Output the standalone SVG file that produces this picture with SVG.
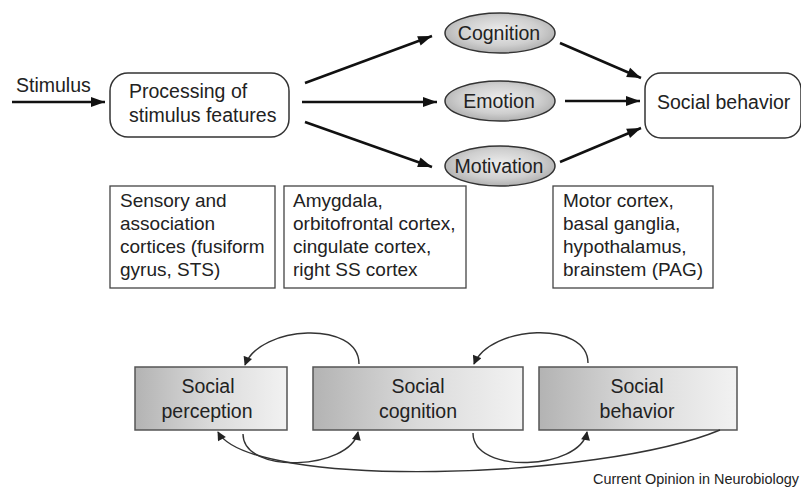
<svg xmlns="http://www.w3.org/2000/svg" width="801" height="493" viewBox="0 0 801 493">
<defs>
<marker id="ah" markerWidth="10" markerHeight="10" viewBox="0 0 10 10" refX="10" refY="5" orient="auto" markerUnits="userSpaceOnUse" style="overflow:visible">
<path d="M0,0 L14,5 L0,10 Z" transform="translate(-4,0)" fill="#111"/>
</marker>
<marker id="sh" viewBox="0 0 10 10" refX="9" refY="5" markerWidth="10" markerHeight="9" orient="auto" markerUnits="userSpaceOnUse">
<path d="M0,0 L10,5 L0,10 Z" fill="#222"/>
</marker>
<radialGradient id="eg" cx="0.5" cy="0.45" r="0.6">
<stop offset="0" stop-color="#eeeeee"/>
<stop offset="0.6" stop-color="#cfcfcf"/>
<stop offset="1" stop-color="#a8a8a8"/>
</radialGradient>
<linearGradient id="bg" x1="0" y1="0" x2="1" y2="0">
<stop offset="0" stop-color="#b3b3b3"/>
<stop offset="0.5" stop-color="#dadada"/>
<stop offset="1" stop-color="#f2f2f2"/>
</linearGradient>
<style>
text{font-family:"Liberation Sans",Arial,sans-serif;fill:#222;}
.t{font-size:19.5px;}
.b{font-size:19px;}
.rr{fill:#fff;stroke:#333;stroke-width:1.5;}
.el{fill:url(#eg);stroke:#333;stroke-width:1.5;}
.bx{fill:#fff;stroke:#444;stroke-width:1.3;}
.gb{fill:url(#bg);stroke:#555;stroke-width:1.5;}
.ar{fill:none;stroke:#111;stroke-width:2.5;marker-end:url(#ah);}
.cu{fill:none;stroke:#333;stroke-width:1.4;marker-end:url(#sh);}
</style>
</defs>
<g id="stimulus"><text class="t" x="16" y="92">Stimulus</text></g>
<g id="processing"><rect class="rr" x="110" y="73" width="179" height="64" rx="18"/>
<text class="t" x="129" y="98">Processing of</text><text class="t" x="129" y="122">stimulus features</text></g>
<g id="cognition"><ellipse class="el" cx="500" cy="33" rx="55" ry="20"/><text class="t" x="499" y="40" text-anchor="middle">Cognition</text></g>
<g id="emotion"><ellipse class="el" cx="500" cy="101" rx="55" ry="20"/><text class="t" x="499" y="108" text-anchor="middle">Emotion</text></g>
<g id="motivation"><ellipse class="el" cx="500" cy="166" rx="55" ry="20"/><text class="t" x="499" y="173" text-anchor="middle">Motivation</text></g>
<g id="socialbehavior"><rect class="rr" x="645" y="73" width="156" height="65" rx="16"/><text class="t" x="657" y="109">Social behavior</text></g>
<g id="box1"><rect class="bx" x="110" y="186" width="165" height="102"/>
<text class="b" x="120" y="207">Sensory and</text><text class="b" x="120" y="230">association</text><text class="b" x="120" y="253">cortices (fusiform</text><text class="b" x="120" y="276">gyrus, STS)</text></g>
<g id="box2"><rect class="bx" x="284" y="186" width="182" height="102"/>
<text class="b" x="293" y="207">Amygdala,</text><text class="b" x="293" y="230">orbitofrontal cortex,</text><text class="b" x="293" y="253">cingulate cortex,</text><text class="b" x="293" y="276">right SS cortex</text></g>
<g id="box3"><rect class="bx" x="553" y="186" width="160" height="102"/>
<text class="b" x="563" y="207">Motor cortex,</text><text class="b" x="563" y="230">basal ganglia,</text><text class="b" x="563" y="253">hypothalamus,</text><text class="b" x="563" y="276">brainstem (PAG)</text></g>
<g id="perception"><rect class="gb" x="135" y="367" width="152" height="63"/>
<text class="t" x="208" y="393" text-anchor="middle">Social</text><text class="t" x="207" y="418" text-anchor="middle">perception</text></g>
<g id="scognition"><rect class="gb" x="313" y="367" width="210" height="63"/>
<text class="t" x="418" y="393" text-anchor="middle">Social</text><text class="t" x="418" y="418" text-anchor="middle">cognition</text></g>
<g id="sbehavior"><rect class="gb" x="539" y="367" width="198" height="63"/>
<text class="t" x="637" y="393" text-anchor="middle">Social</text><text class="t" x="637" y="418" text-anchor="middle">behavior</text></g>
<g id="connectors">
<line class="ar" x1="12" y1="102" x2="105" y2="102"/>
<line class="ar" x1="305" y1="83" x2="432" y2="36"/>
<line class="ar" x1="302" y1="102" x2="437" y2="102"/>
<line class="ar" x1="305" y1="122" x2="432" y2="167"/>
<line class="ar" x1="560" y1="43" x2="641" y2="78"/>
<line class="ar" x1="565" y1="101" x2="640" y2="101"/>
<line class="ar" x1="560" y1="162" x2="641" y2="128"/>
<path class="cu" d="M359,364 C359,320 260,325 245,365"/>
<path class="cu" d="M588,363 C588,320 490,325 474,364"/>
<path class="cu" d="M243,434 C243,475 350,470 358,432"/>
<path class="cu" d="M473,433 C473,475 580,470 587,432"/>
<path class="cu" d="M720,430 C600,480 250,490 218,432"/>
</g>
<text x="593" y="484" textLength="206" lengthAdjust="spacingAndGlyphs" style="font-size:14px">Current Opinion in Neurobiology</text>
</svg>
